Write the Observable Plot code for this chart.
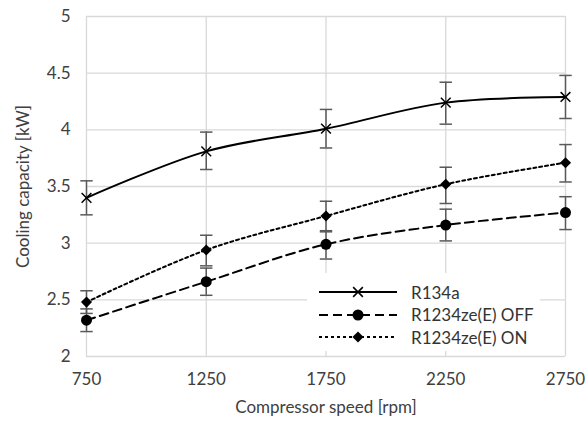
<!DOCTYPE html>
<html><head><meta charset="utf-8">
<script src="https://cdn.jsdelivr.net/npm/d3@7"></script>
<script src="https://cdn.jsdelivr.net/npm/@observablehq/plot@0.6"></script>
<style>
body{margin:0;background:#fff;font-family:Lato,"Open Sans",sans-serif;}
#wrap{position:relative;width:587px;height:423px;}
#legend{position:absolute;left:307px;top:273px;width:233px;height:78px;background:#fff;}
#legend .row{position:absolute;left:0;height:20px;display:flex;align-items:center;font-size:17px;color:#333;}
#legend svg{margin-left:12px;margin-right:14px;}
svg text{font-size:17px;}
</style></head><body>
<div id="wrap"><div id="legend"></div></div>
<script>
const speeds = [750, 1250, 1750, 2250, 2750];
const seriesNames = ["R134a", "R1234ze(E) OFF", "R1234ze(E) ON"];
const r134a = [3.40, 3.81, 4.01, 4.24, 4.29];
const r134aLo = [3.25, 3.65, 3.84, 4.05, 4.10];
const r134aHi = [3.55, 3.98, 4.18, 4.42, 4.48];
const off = [2.32, 2.66, 2.99, 3.16, 3.27];
const offLo = [2.22, 2.54, 2.86, 3.02, 3.12];
const offHi = [2.42, 2.78, 3.11, 3.30, 3.41];
const on = [2.48, 2.94, 3.24, 3.52, 3.71];
const onLo = [2.38, 2.80, 3.10, 3.35, 3.54];
const onHi = [2.58, 3.07, 3.37, 3.67, 3.87];
const yTicks = [2, 2.5, 3, 3.5, 4, 4.5, 5];

const styles = {
  "R134a": {dash: null, symbol: "times", r: 4.5, fill: "none", stroke: "#000"},
  "R1234ze(E) OFF": {dash: "9,5", symbol: "circle", r: 5.5, fill: "#000", stroke: "none"},
  "R1234ze(E) ON": {dash: "3,3", symbol: "diamond2", r: 5, fill: "#000", stroke: "none"}
};
const vals = [r134a, off, on], los = [r134aLo, offLo, onLo], his = [r134aHi, offHi, onHi];
const data = [];
seriesNames.forEach((s, i) => speeds.forEach((x, j) => data.push({s, x, y: vals[i][j], lo: los[i][j], hi: his[i][j]})));

const capSymbol = {draw(ctx, size) { const w = Math.sqrt(size) / 2; ctx.moveTo(-w, 0); ctx.lineTo(w, 0); }};

const marks = [
  Plot.gridX(speeds, {stroke: "#d9d9d9", strokeOpacity: 1, strokeWidth: 1.3}),
  Plot.gridY(yTicks, {stroke: "#d9d9d9", strokeOpacity: 1, strokeWidth: 1.3}),
  Plot.ruleX(data, {x: "x", y1: "lo", y2: "hi", stroke: "#595959", strokeWidth: 1.5}),
  Plot.dot(data, {x: "x", y: "lo", symbol: capSymbol, r: 7, stroke: "#595959", strokeWidth: 1.5}),
  Plot.dot(data, {x: "x", y: "hi", symbol: capSymbol, r: 7, stroke: "#595959", strokeWidth: 1.5})
];
seriesNames.forEach(s => {
  const st = styles[s];
  const d = data.filter(e => e.s === s);
  marks.push(Plot.line(d, {x: "x", y: "y", curve: "catmull-rom", stroke: "#000", strokeWidth: 2, strokeDasharray: st.dash}));
  marks.push(Plot.dot(d, {x: "x", y: "y", symbol: st.symbol, r: st.r, fill: st.fill, stroke: st.stroke, strokeWidth: 1.5}));
});

const chart = Plot.plot({
  width: 587, height: 423,
  marginLeft: 86, marginRight: 22, marginTop: 16, marginBottom: 67,
  style: {fontFamily: "Lato, 'Open Sans', sans-serif", fontSize: "17px", color: "#404040", background: "#fff"},
  x: {domain: [750, 2750], ticks: speeds, tickFormat: d => String(d), tickSize: 0, tickPadding: 16, label: "Compressor speed [rpm]", labelAnchor: "center", labelArrow: "none", labelOffset: 56},
  y: {domain: [2, 5], ticks: yTicks, tickFormat: d => String(d), tickSize: 0, tickPadding: 16, label: "Cooling capacity [kW]", labelAnchor: "center", labelArrow: "none", labelOffset: 70},
  marks
});
document.getElementById("wrap").prepend(chart);

const leg = document.getElementById("legend");
seriesNames.forEach((s, i) => {
  const st = styles[s];
  const row = document.createElement("div");
  row.className = "row";
  row.style.top = (9 + i * 22.5) + "px";
  const sym = d3.symbol(st.symbol === "times" ? d3.symbolTimes : st.symbol === "circle" ? d3.symbolCircle : d3.symbolDiamond2, Math.PI * st.r * st.r)();
  row.innerHTML = `<svg width="78" height="20"><line x1="0" x2="78" y1="10" y2="10" stroke="#000" stroke-width="2" ${st.dash ? `stroke-dasharray="${st.dash}"` : ""}/><path transform="translate(39,10)" d="${sym}" fill="${st.fill}" stroke="${st.stroke}" stroke-width="1.5"/></svg><span>${s}</span>`;
  leg.appendChild(row);
});
</script>
</body></html>
